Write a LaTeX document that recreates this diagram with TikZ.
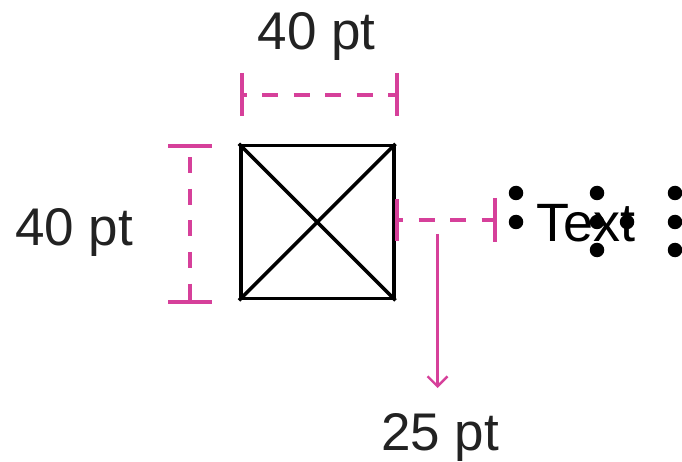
\documentclass[tikz,border=0pt]{standalone}
\usepackage{fontspec}
\setmainfont{Liberation Sans}
\usetikzlibrary{arrows.meta}
\definecolor{dimpink}{HTML}{D6409A}
\definecolor{labelgray}{HTML}{222222}
\tikzset{
  dimline/.style={draw=dimpink, line width=3.6pt, dash pattern=on 16pt off 15.5pt},
  dimtick/.style={draw=dimpink, line width=3.6pt},
  dimlabel/.style={font=\fontsize{53}{60}\selectfont, text=labelgray, inner sep=0pt, anchor=base},
  handle/.style={circle, fill=black, minimum size=14.5pt, inner sep=0pt},
  boxshape/.style={draw=black, line width=3.6pt, minimum width=153pt, minimum height=153pt, inner sep=0pt}
}
\begin{document}
\begin{tikzpicture}[x=1pt,y=-1pt]
\useasboundingbox (0,0) rectangle (682,462);
% box
\node[boxshape] (box) at (317.2,222.1) {};
\draw[line width=3.6pt] (box.north west) -- (box.south east);
\draw[line width=3.6pt] (box.south west) -- (box.north east);
% top dimension
\coordinate (tl1) at (242,73); \coordinate (tl2) at (242,116);
\coordinate (tr1) at (397,73); \coordinate (tr2) at (397,116);
\coordinate (ta) at (242,95); \coordinate (tb) at (397,95);
\draw[dimtick] (tl1) -- (tl2);
\draw[dimtick] (tr1) -- (tr2);
\draw[dimline, dash phase=11.3pt] (ta) -- (tb);
\node[dimlabel] (toplabel) at (316.5,50) {40 pt};
% left dimension
\coordinate (lt1) at (168,146); \coordinate (lt2) at (212,146);
\coordinate (lb1) at (168,302); \coordinate (lb2) at (212,302);
\coordinate (la) at (190,146); \coordinate (lb) at (190,302);
\draw[dimtick] (lt1) -- (lt2);
\draw[dimtick] (lb1) -- (lb2);
\draw[dimline, dash phase=20pt] (la) -- (lb);
\node[dimlabel] (leftlabel) at (74,245) {40 pt};
% right spacing dimension
\coordinate (rt1) at (397,199); \coordinate (rt2) at (397,241);
\coordinate (rs1) at (495,198); \coordinate (rs2) at (495,242);
\coordinate (ra) at (397,220); \coordinate (rb) at (495,220);
\draw[dimtick] (rt1) -- (rt2);
\draw[dimtick] (rs1) -- (rs2);
\draw[dimline, dash phase=10pt] (ra) -- (rb);
\coordinate (arrstart) at (437.5,234);
\coordinate (arrend) at (437.5,388);
\draw[draw=dimpink, line width=2.4pt, -{Straight Barb[length=10pt,width=20pt,line width=2.4pt]}] (arrstart) -- (arrend);
\node[dimlabel] (spacelabel) at (440,450) {25 pt};
% text with handles
\node[font=\fontsize{54}{60}\selectfont, text=black, inner sep=0pt, anchor=base west] (txt) at (536,241) {Text};
\node[handle] (h1) at (516,193) {};
\node[handle] (h2) at (516,222) {};
\node[handle] (h3) at (597,193) {};
\node[handle] (h4) at (597,222) {};
\node[handle] (h5) at (597,250) {};
\node[handle] (h6) at (627,222) {};
\node[handle] (h7) at (675,193) {};
\node[handle] (h8) at (675,222) {};
\node[handle] (h9) at (675,250) {};
\end{tikzpicture}
\end{document}
